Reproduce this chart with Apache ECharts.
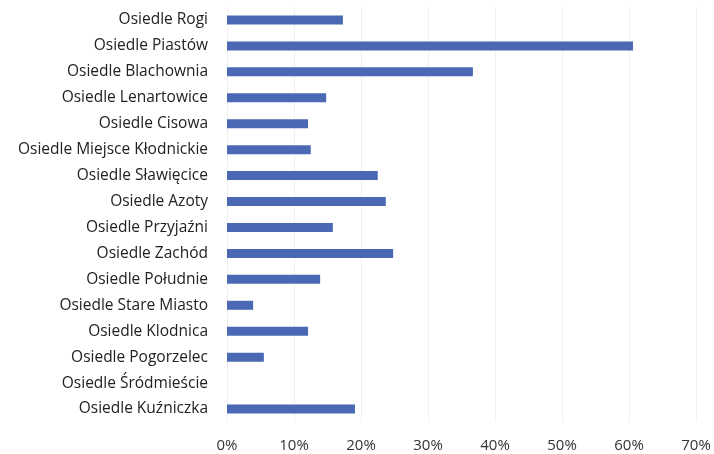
<!DOCTYPE html>
<html><head><meta charset="utf-8">
<script src="https://cdn.jsdelivr.net/npm/echarts@6/dist/echarts.min.js"></script>
<style>html,body{margin:0;padding:0;background:#fff}#c{width:714px;height:454px}</style>
</head><body><div id="c"></div>
<script>
const categories = ["Osiedle Rogi","Osiedle Piastów","Osiedle Blachownia","Osiedle Lenartowice","Osiedle Cisowa","Osiedle Miejsce Kłodnickie","Osiedle Sławięcice","Osiedle Azoty","Osiedle Przyjaźni","Osiedle Zachód","Osiedle Południe","Osiedle Stare Miasto","Osiedle Klodnica","Osiedle Pogorzelec","Osiedle Śródmieście","Osiedle Kuźniczka"];
const values = [17.3, 60.6, 36.7, 14.8, 12.1, 12.5, 22.5, 23.7, 15.8, 24.8, 13.9, 3.9, 12.1, 5.5, 0, 19.1];
const tickLabels = ["0%","10%","20%","30%","40%","50%","60%","70%"];

const chart = echarts.init(document.getElementById('c'));
chart.setOption({
  animation: false,
  grid: {left: 227, right: 18, top: 7, bottom: 32, containLabel: false},
  xAxis: {
    type: 'value', min: 0, max: 70, interval: 10,
    axisLine: {show: false}, axisTick: {show: false},
    splitLine: {show: true, lineStyle: {color: '#f0f0f0', width: 1}},
    axisLabel: {margin: 16, color: '#333', fontSize: 15, fontFamily: 'Open Sans',
      formatter: v => tickLabels[Math.round(v / 10)]}
  },
  yAxis: {
    type: 'category', data: categories, inverse: true,
    axisLine: {show: false}, axisTick: {show: false},
    axisLabel: {margin: 19, color: '#222', fontSize: 15.5, fontFamily: 'Open Sans'}
  },
  series: [{
    type: 'bar', data: values, barWidth: 9,
    itemStyle: {color: '#4a68b3'}
  }]
});
</script></body></html>
